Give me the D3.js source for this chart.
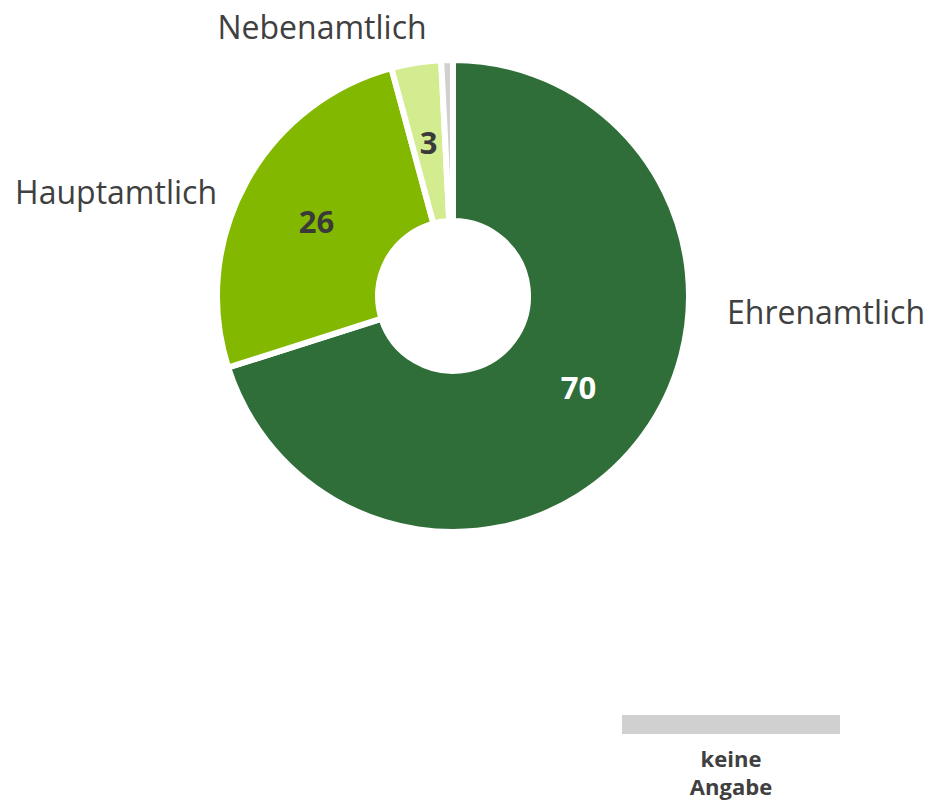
<!DOCTYPE html>
<html>
<head>
<meta charset="utf-8">
<script src="https://cdn.jsdelivr.net/npm/d3@7"></script>
<style>
  body { margin: 0; background: #ffffff; }
  svg text { font-family: "Open Sans", Lato, sans-serif; }
</style>
</head>
<body>
<div id="chart"></div>
<script>
// Data (percent)
const categories = ['Ehrenamtlich', 'Hauptamtlich', 'Nebenamtlich', 'keine Angabe'];
const values = [70.1, 25.7, 3.4, 0.8];
const colors = ['#2f6e39', '#82b800', '#d2ec8f', '#d0d0d0'];
const valueLabelColors = ['#ffffff', '#3a3a3a', '#3a3a3a', null];
const legendItems = ['keine Angabe'];

const width = 930;
const height = 800;
const cx = 453;
const cy = 296;
const outerR = 236;
const innerR = 75;

// where the category names sit (outside the ring)
const nameLayout = {
  'Ehrenamtlich': {x: 727, y: 324, anchor: 'start'},
  'Hauptamtlich': {x: 217, y: 204, anchor: 'end'},
  'Nebenamtlich': {x: 322, y: 39, anchor: 'middle'}
};

const svg = d3.select('#chart').append('svg')
  .attr('width', width)
  .attr('height', height);

const g = svg.append('g')
  .attr('transform', `translate(${cx}, ${cy})`);

const data = categories.map((c, i) => ({name: c, value: values[i], i}));

const pie = d3.pie()
  .sort(null)
  .value(d => d.value);

const arc = d3.arc()
  .innerRadius(innerR)
  .outerRadius(outerR);

const arcs = pie(data);

g.selectAll('.slice')
  .data(arcs)
  .enter()
  .append('path')
  .attr('class', 'slice')
  .attr('d', arc)
  .attr('fill', d => colors[d.data.i])
  .attr('stroke', '#ffffff')
  .attr('stroke-width', 6)
  .attr('stroke-linejoin', 'miter');

// Value labels at the middle of each ring segment
g.selectAll('.val')
  .data(arcs.filter(d => valueLabelColors[d.data.i]))
  .enter()
  .append('text')
  .attr('class', 'val')
  .attr('transform', d => `translate(${arc.centroid(d)})`)
  .attr('text-anchor', 'middle')
  .attr('dy', '0.36em')
  .attr('font-size', '31px')
  .attr('font-weight', 'bold')
  .attr('fill', d => valueLabelColors[d.data.i])
  .text(d => Math.round(d.data.value));

// Category names
svg.selectAll('.name')
  .data(data.filter(d => nameLayout[d.name]))
  .enter()
  .append('text')
  .attr('class', 'name')
  .attr('x', d => nameLayout[d.name].x)
  .attr('y', d => nameLayout[d.name].y)
  .attr('text-anchor', d => nameLayout[d.name].anchor)
  .attr('font-size', '32px')
  .attr('fill', '#404040')
  .text(d => d.name);

// Legend (only the tiny slice gets one)
const legend = svg.append('g')
  .attr('transform', 'translate(622, 715)');

legendItems.forEach(name => {
  const i = categories.indexOf(name);
  legend.append('rect')
    .attr('x', 0)
    .attr('y', 0)
    .attr('width', 218)
    .attr('height', 19)
    .attr('fill', colors[i]);

  const t = legend.append('text')
    .attr('x', 109)
    .attr('y', 52)
    .attr('text-anchor', 'middle')
    .attr('font-size', '22px')
    .attr('font-weight', 'bold')
    .attr('fill', '#404040');
  name.split(' ').forEach((w, k) => {
    t.append('tspan')
      .attr('x', 109)
      .attr('dy', k === 0 ? 0 : 28)
      .text(w);
  });
});
</script>
</body>
</html>
